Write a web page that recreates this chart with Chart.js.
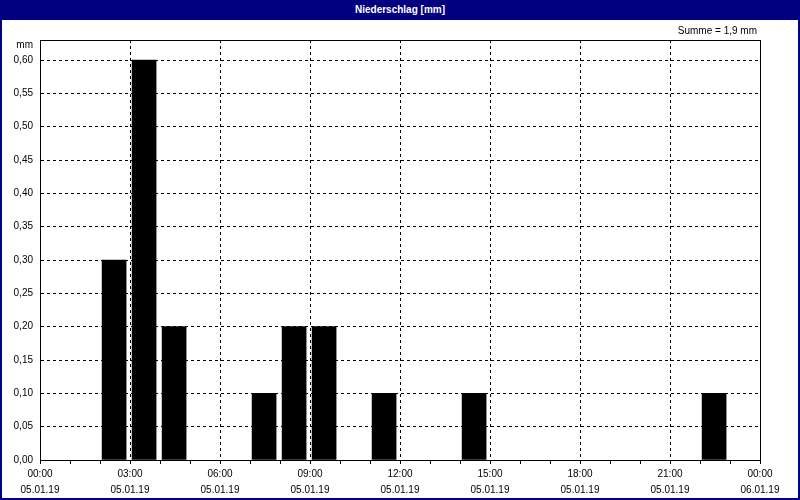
<!DOCTYPE html>
<html>
<head>
<meta charset="utf-8">
<script src="https://cdn.jsdelivr.net/npm/chart.js@4.4.0/dist/chart.umd.min.js"></script>
<style>
  body { margin: 0; background: #fff; }
  #frame { width: 796px; height: 478px; border: 2px solid #000080; border-top: none; padding-top: 20px; position: relative; }
  #titlebar { position: absolute; left: -2px; top: 0; width: 800px; height: 20px; background: #000080; color: #fff;
    font: bold 10px "Liberation Sans", Arial, sans-serif; text-align: center; line-height: 20px; }
  #wrap { width: 796px; height: 478px; }
</style>
</head>
<body>
<div id="frame">
  <div id="titlebar">Niederschlag [mm]</div>
  <div id="wrap"><canvas id="rainChart"></canvas></div>
</div>
<script>
// hourly precipitation, 05.01.19 (start hour of each interval)
const hours = [2, 3, 4, 7, 8, 9, 11, 14, 22];
const rain = [0.3, 0.6, 0.2, 0.1, 0.2, 0.2, 0.1, 0.1, 0.1];
const yTicks = [0, 0.05, 0.1, 0.15, 0.2, 0.25, 0.3, 0.35, 0.4, 0.45, 0.5, 0.55, 0.6];
const dayLabels = ['05.01.19', '06.01.19'];
const total = rain.reduce((a, b) => a + b, 0);

const font = { family: '"Liberation Sans", Arial, sans-serif', size: 10 };

const framePlugin = {
  id: 'framePlugin',
  afterDraw(chart) {
    const { ctx, chartArea: a } = chart;
    ctx.save();
    ctx.strokeStyle = '#000';
    ctx.lineWidth = 1;
    ctx.strokeRect(a.left + 0.5, a.top + 0.5, a.right - a.left, a.bottom - a.top);
    ctx.fillStyle = '#000';
    ctx.font = '10px "Liberation Sans", Arial, sans-serif';
    ctx.textAlign = 'right';
    ctx.textBaseline = 'middle';
    ctx.fillText('mm', a.left - 7, a.top + 5);
    ctx.fillText('Summe = ' + total.toFixed(1).replace('.', ',') + ' mm', a.right - 3, 11);
    ctx.restore();
  }
};

const ctx = document.getElementById('rainChart').getContext('2d');
new Chart(ctx, {
  type: 'bar',
  data: {
    datasets: [{
      data: hours.map((h, i) => ({ x: h + 0.47, y: rain[i] })),
      backgroundColor: '#000',
      borderWidth: 0,
      barThickness: 24,
    }],
  },
  options: {
    responsive: true,
    maintainAspectRatio: false,
    animation: false,
    layout: { padding: { left: 0, top: 20, right: 38, bottom: 0 } },
    plugins: {
      legend: { display: false },
      tooltip: { enabled: false },
    },
    scales: {
      x: {
        type: 'linear',
        min: 0,
        max: 24,
        offset: false,
        afterFit: (s) => { s.height = 38; },
        afterBuildTicks: (s) => { s.ticks = Array.from({ length: 25 }, (_, i) => ({ value: i })); },
        grid: {
          offset: false,
          color: (c) => (c.tick && c.tick.value % 3 === 0 ? '#000' : 'rgba(0,0,0,0)'),
          tickColor: '#000',
          tickLength: 4,
          lineWidth: 1,
        },
        border: { display: true, color: '#000', dash: [3, 3] },
        ticks: {
          autoSkip: false,
          maxRotation: 0,
          padding: 2,
          color: '#000',
          font: { ...font, lineHeight: 1.6 },
          callback: (v) => {
            if (v % 3 !== 0) return '';
            const hh = String(v % 24).padStart(2, '0') + ':00';
            return [hh, v === 24 ? dayLabels[1] : dayLabels[0]];
          },
        },
      },
      y: {
        min: 0,
        max: 0.63,
        afterFit: (s) => { s.width = 38; },
        afterBuildTicks: (s) => { s.ticks = yTicks.map((v) => ({ value: v })); },
        grid: { color: '#000', drawTicks: false, lineWidth: 1 },
        border: { display: true, color: '#000', dash: [3, 3] },
        ticks: {
          padding: 7,
          color: '#000',
          font,
          callback: (v) => v.toFixed(2).replace('.', ','),
        },
      },
    },
  },
  plugins: [framePlugin],
});
</script>
</body>
</html>
